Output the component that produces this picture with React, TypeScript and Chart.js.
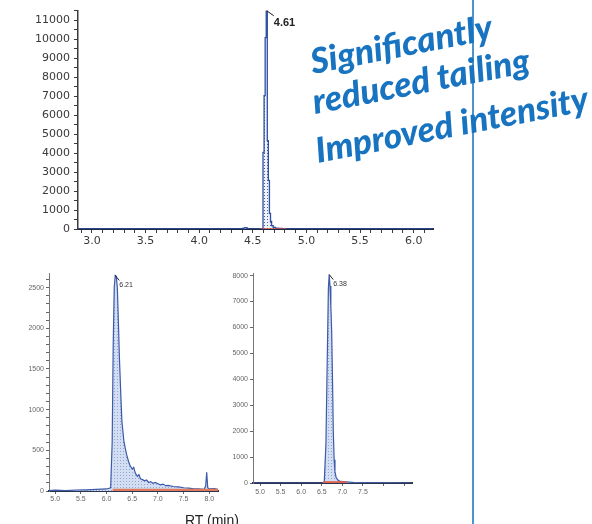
import React, { useEffect, useRef } from 'react';
import { Chart, registerables } from 'chart.js';

Chart.register(...registerables);

// ---------- Top chromatogram ----------
const topRT = [2.87, 4.40, 4.42, 4.43, 4.44, 4.46, 4.58, 4.59, 4.60, 4.61, 4.62, 4.63, 4.64, 4.65, 4.66, 4.67, 4.68, 4.70, 4.72, 4.75, 4.80, 6.18];
const topIntensity = [0, 0, 50, 70, 60, 0, 0, 0, 4040, 7020, 10080, 11490, 4650, 2560, 820, 400, 180, 90, 50, 30, 0, 0];
const topBaseRT = [4.57, 4.81];
const topBaseIntensity = [0, 0];
const topXLabels = ['3.0', '3.5', '4.0', '4.5', '5.0', '5.5', '6.0'];
const topYLabels = ['0', '1000', '2000', '3000', '4000', '5000', '6000', '7000', '8000', '9000', '10000', '11000'];
const topPeakLabel = '4.61';

// ---------- Bottom-left chromatogram ----------
const blRT = [4.88, 5.0, 5.2, 5.4, 5.6, 5.8, 6.0, 6.08, 6.11, 6.13, 6.15, 6.17, 6.19, 6.21, 6.23, 6.25, 6.28, 6.30, 6.34, 6.39, 6.43, 6.46, 6.50, 6.53, 6.56, 6.60, 6.63, 6.66, 6.70, 6.74, 6.78, 6.82, 6.86, 6.90, 6.95, 7.00, 7.05, 7.10, 7.15, 7.20, 7.30, 7.40, 7.50, 7.60, 7.70, 7.80, 7.90, 7.93, 7.95, 7.97, 8.00, 8.10, 8.17];
const blIntensity = [5, 10, 5, 12, 15, 20, 25, 40, 600, 1800, 2500, 2650, 2640, 2500, 2100, 1650, 1150, 850, 600, 450, 360, 310, 270, 290, 220, 180, 200, 150, 140, 125, 135, 105, 115, 95, 105, 90, 75, 85, 65, 70, 55, 50, 40, 35, 25, 25, 20, 60, 230, 40, 25, 30, 20];
const blBaseRT = [6.12, 8.17];
const blBaseIntensity = [15, 15];
const blXLabels = ['5.0', '5.5', '6.0', '6.5', '7.0', '7.5', '8.0'];
const blYLabels = ['0', '500', '1000', '1500', '2000', '2500'];
const blPeakLabel = '6.21';

// ---------- Bottom-right chromatogram ----------
const brRT = [4.83, 5.5, 6.0, 6.5, 6.56, 6.60, 6.63, 6.66, 6.68, 6.70, 6.72, 6.74, 6.76, 6.78, 6.80, 6.82, 6.85, 6.90, 6.95, 7.1, 7.3, 7.6, 8.0, 8.69];
const brIntensity = [0, 0, 0, 0, 30, 1500, 4500, 7500, 8040, 7600, 6800, 5850, 4000, 1970, 900, 430, 200, 100, 60, 40, 20, 10, 5, 0];
const brBaseRT = [6.53, 7.1];
const brBaseIntensity = [30, 30];
const brXLabels = ['5.0', '5.5', '6.0', '6.5', '7.0', '7.5'];
const brYLabels = ['0', '1000', '2000', '3000', '4000', '5000', '6000', '7000', '8000'];
const brPeakLabel = '6.38';

function makePattern(bg: string, dot: string, size: number) {
  const c = document.createElement('canvas');
  c.width = size;
  c.height = size;
  const g = c.getContext('2d')!;
  g.fillStyle = bg;
  g.fillRect(0, 0, size, size);
  g.fillStyle = dot;
  g.fillRect(0, 0, 1, 1);
  return g.createPattern(c, 'repeat')!;
}

const peakLabelPlugin = {
  id: 'peakLabel',
  afterDatasetsDraw(chart: any, _args: any, opts: any) {
    if (!opts || !opts.text) return;
    const pts = chart.data.datasets[0].data as { x: number; y: number }[];
    let best = pts[0];
    for (const p of pts) if (p.y > best.y) best = p;
    const px = chart.scales.x.getPixelForValue(best.x);
    const py = chart.scales.y.getPixelForValue(best.y);
    const ctx = chart.ctx as CanvasRenderingContext2D;
    ctx.save();
    ctx.strokeStyle = '#222';
    ctx.lineWidth = 1;
    ctx.beginPath();
    ctx.moveTo(px, py);
    ctx.lineTo(px + opts.dx, py + opts.dy);
    ctx.stroke();
    ctx.fillStyle = opts.color;
    ctx.font = opts.font;
    ctx.textBaseline = 'top';
    ctx.fillText(opts.text, px + opts.dx, py + opts.dy + opts.ty);
    ctx.restore();
  },
};

function labelCb(labels: string[], decimals: number) {
  return (v: any) => {
    const s = Number(v).toFixed(decimals);
    return labels.includes(s) ? s : '';
  };
}

interface Spec {
  rt: number[];
  inten: number[];
  baseRT: number[];
  baseInten: number[];
  xMin: number; xMax: number; xStep: number; xLabels: string[];
  yMax: number; yStep: number; yLabels: string[]; yMajorOnly?: boolean;
  yWidth: number; xHeight: number;
  pad: { top: number; right: number; left: number; bottom: number };
  font: any; tickColor: string; tickLen: number; yPad: number; xPad: number;
  fill: CanvasPattern; line: string; lineWidth: number; stepped: any;
  xBorder: { color: string; width: number };
  yBorder: { color: string; width: number };
  baseColor: string; baseWidth: number;
  peak: any;
}

function build(canvas: HTMLCanvasElement, s: Spec) {
  return new Chart(canvas, {
    type: 'line',
    data: {
      datasets: [
        {
          data: s.rt.map((x, i) => ({ x, y: s.inten[i] })),
          borderColor: s.line,
          borderWidth: s.lineWidth,
          backgroundColor: s.fill,
          fill: 'origin',
          stepped: s.stepped,
          pointRadius: 0,
          tension: 0,
          order: 1,
        },
        {
          data: s.baseRT.map((x, i) => ({ x, y: s.baseInten[i] })),
          borderColor: s.baseColor,
          borderWidth: s.baseWidth,
          fill: false,
          pointRadius: 0,
          order: 0,
        },
      ],
    },
    options: {
      responsive: false,
      animation: false,
      devicePixelRatio: 1,
      layout: { padding: s.pad },
      plugins: {
        legend: { display: false },
        tooltip: { enabled: false },
        // @ts-ignore
        peakLabel: s.peak,
      },
      scales: {
        x: {
          type: 'linear',
          min: s.xMin,
          max: s.xMax,
          border: { display: true, color: s.xBorder.color, width: s.xBorder.width },
          grid: { display: true, drawOnChartArea: false, drawTicks: true, color: s.tickColor, tickLength: s.tickLen },
          ticks: {
            stepSize: s.xStep,
            includeBounds: false,
            autoSkip: false,
            maxRotation: 0,
            padding: s.xPad,
            color: s.tickColor,
            font: s.font,
            callback: labelCb(s.xLabels, 1),
          },
          afterFit: (a: any) => { a.height = s.xHeight; },
        },
        y: {
          type: 'linear',
          min: 0,
          max: s.yMax,
          border: { display: true, color: s.yBorder.color, width: s.yBorder.width },
          grid: { display: true, drawOnChartArea: false, drawTicks: true, color: s.tickColor, tickLength: s.tickLen },
          ticks: {
            stepSize: s.yStep,
            includeBounds: false,
            autoSkip: false,
            padding: s.yPad,
            color: s.tickColor,
            font: s.font,
            callback: labelCb(s.yLabels, 0),
          },
          afterBuildTicks: (a: any) => {
            if (s.yMajorOnly) {
              a.ticks = a.ticks.filter((t: any) => s.yLabels.includes(Number(t.value).toFixed(0)));
            }
          },
          afterFit: (a: any) => { a.width = s.yWidth; },
        },
      },
    } as any,
    plugins: [peakLabelPlugin as any],
  });
}

export default function App() {
  const topRef = useRef<HTMLCanvasElement>(null);
  const blRef = useRef<HTMLCanvasElement>(null);
  const brRef = useRef<HTMLCanvasElement>(null);

  useEffect(() => {
    const topFill = makePattern('#eef2fa', '#4a5f98', 3);
    const botFill = makePattern('#d3def2', '#8fa5d6', 3);
    const charts: Chart[] = [];
    charts.push(
      build(topRef.current!, {
        rt: topRT, inten: topIntensity, baseRT: topBaseRT, baseInten: topBaseIntensity,
        xMin: 2.87, xMax: 6.18, xStep: 0.1, xLabels: topXLabels,
        yMax: 11500, yStep: 500, yLabels: topYLabels,
        yWidth: 78, xHeight: 21,
        pad: { top: 10, right: 12, left: 0, bottom: 0 },
        font: { family: 'DejaVu Sans', size: 11 }, tickColor: '#3a3a3a', tickLen: 4, yPad: 4, xPad: 2,
        fill: topFill, line: '#2f4f9f', lineWidth: 1.3, stepped: 'middle',
        xBorder: { color: '#1e2a48', width: 2 },
        yBorder: { color: '#3a3a3a', width: 1.5 },
        baseColor: '#c8503c', baseWidth: 1.6,
        peak: { text: topPeakLabel, dx: 7, dy: 5, ty: 2, font: 'bold 11px Arial', color: '#222' },
      })
    );
    charts.push(
      build(blRef.current!, {
        rt: blRT, inten: blIntensity, baseRT: blBaseRT, baseInten: blBaseIntensity,
        xMin: 4.88, xMax: 8.17, xStep: 0.5, xLabels: blXLabels,
        yMax: 2680, yStep: 100, yLabels: blYLabels,
        yWidth: 49, xHeight: 14,
        pad: { top: 11, right: 10, left: 0, bottom: 0 },
        font: { family: 'Arial', size: 7 }, tickColor: '#666', tickLen: 3, yPad: 2, xPad: 1,
        fill: botFill, line: '#3d5aa8', lineWidth: 1.2, stepped: false,
        xBorder: { color: '#2b3550', width: 2 },
        yBorder: { color: '#777', width: 1 },
        baseColor: '#e07a5c', baseWidth: 2.2,
        peak: { text: blPeakLabel, dx: 4, dy: 5, ty: 1, font: '7px Arial', color: '#333' },
      })
    );
    charts.push(
      build(brRef.current!, {
        rt: brRT, inten: brIntensity, baseRT: brBaseRT, baseInten: brBaseIntensity,
        xMin: 4.83, xMax: 8.69, xStep: 0.5, xLabels: brXLabels,
        yMax: 8100, yStep: 200, yLabels: brYLabels, yMajorOnly: true,
        yWidth: 48, xHeight: 22,
        pad: { top: 11, right: 8, left: 0, bottom: 0 },
        font: { family: 'Arial', size: 7 }, tickColor: '#666', tickLen: 3, yPad: 2, xPad: 2,
        fill: botFill, line: '#3d5aa8', lineWidth: 1.2, stepped: false,
        xBorder: { color: '#2b3550', width: 2 },
        yBorder: { color: '#777', width: 1 },
        baseColor: '#e0604a', baseWidth: 2,
        peak: { text: brPeakLabel, dx: 4, dy: 5, ty: 1, font: '7px Arial', color: '#333' },
      })
    );
    return () => charts.forEach((c) => c.destroy());
  }, []);

  const fs = 35;
  const hand: React.CSSProperties = {
    position: 'absolute',
    fontFamily: 'Lato, "DejaVu Sans", sans-serif',
    fontStyle: 'italic',
    fontWeight: 900,
    fontSize: fs,
    lineHeight: 1,
    color: '#1874c0',
    whiteSpace: 'nowrap',
    transform: 'rotate(-11deg)',
    transformOrigin: '0 88.7%',
  };
  const base = Math.round(fs * 0.887);

  return (
    <div style={{ position: 'absolute', left: 0, top: 0, width: 592, height: 524, background: '#fff', overflow: 'hidden' }}>
      <canvas ref={topRef} width={445} height={250} style={{ position: 'absolute', left: 0, top: 0 }} />
      <canvas ref={blRef} width={228} height={243} style={{ position: 'absolute', left: 0, top: 262 }} />
      <canvas ref={brRef} width={215} height={243} style={{ position: 'absolute', left: 205, top: 262 }} />
      <div style={{ position: 'absolute', left: 472, top: 0, width: 2, height: 524, background: '#4f93cc' }} />
      <div style={{ ...hand, left: 313, top: 74 - base }}>Significantly</div>
      <div style={{ ...hand, left: 315, top: 114 - base }}>reduced tailing</div>
      <div style={{ ...hand, left: 318, top: 163 - base }}>Improved intensity</div>
      <div style={{ position: 'absolute', left: 185, top: 512, fontFamily: 'Arial, "Liberation Sans", sans-serif', fontSize: 14, color: '#222', whiteSpace: 'nowrap' }}>RT (min)</div>
    </div>
  );
}
